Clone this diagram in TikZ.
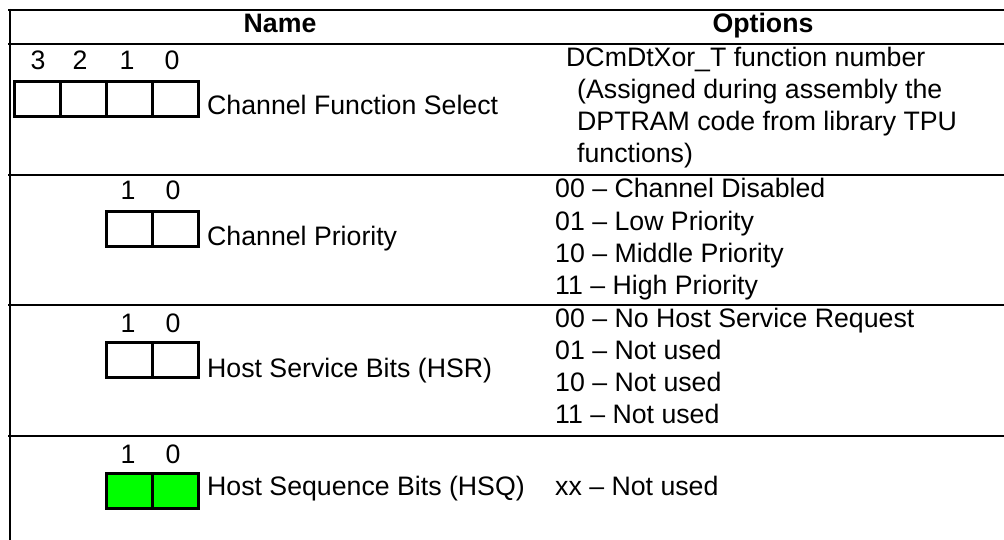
\documentclass[tikz,border=0pt]{standalone}
\usepackage{fontspec}
\setmainfont{Liberation Sans}
\definecolor{hsqgreen}{RGB}{0,255,0}
\begin{document}
\begin{tikzpicture}[x=1pt,y=-1pt,
  rule/.style={line width=2.2pt},
  cell/.style={draw, line width=3pt, minimum width=46pt, minimum height=35pt, inner sep=0pt, anchor=north west},
  bit/.style={anchor=base, inner sep=0pt, font=\fontsize{26.7}{32}\selectfont},
  txt/.style={anchor=base west, inner sep=0pt, font=\fontsize{26.7}{32}\selectfont},
  head/.style={anchor=base, inner sep=0pt, font=\fontsize{26.7}{32}\selectfont\bfseries}]
\useasboundingbox (0,0) rectangle (1004,540);
% rules
\draw[rule] (8,10) -- (1004,10);
\draw[rule] (8,44) -- (1004,44);
\draw[rule] (8,175) -- (1004,175);
\draw[rule] (8,305) -- (1004,305);
\draw[rule] (8,436) -- (1004,436);
\draw[rule] (10,9) -- (10,540);
% header
\node[head] (hname) at (280,33) {Name};
\node[head] (hopt) at (763,33) {Options};
% row 1
\node[bit] (b13) at (38,70) {3};
\node[bit] (b12) at (80,70) {2};
\node[bit] (b11) at (127,70) {1};
\node[bit] (b10) at (172,70) {0};
\node[cell] (c13) at (13,80) {};
\node[cell] (c12) at (59,80) {};
\node[cell] (c11) at (105,80) {};
\node[cell] (c10) at (151,80) {};
\node[txt] (n1) at (207,115) {Channel Function Select};
\node[txt] (o1a) at (566,67) {DCmDtXor\_T function number};
\node[txt] (o1b) at (577,99) {(Assigned during assembly the};
\node[txt] (o1c) at (577,131) {DPTRAM code from library TPU};
\node[txt] (o1d) at (577,163) {functions)};
% row 2
\node[bit] (b21) at (128,200) {1};
\node[bit] (b20) at (173,200) {0};
\node[cell] (c21) at (105,210) {};
\node[cell] (c20) at (151,210) {};
\node[txt] (n2) at (207,246) {Channel Priority};
\node[txt] (o2a) at (555,198) {00 -- Channel Disabled};
\node[txt] (o2b) at (555,230) {01 -- Low Priority};
\node[txt] (o2c) at (555,262) {10 -- Middle Priority};
\node[txt] (o2d) at (555,294) {11 -- High Priority};
% row 3
\node[bit] (b31) at (128,332) {1};
\node[bit] (b30) at (173,332) {0};
\node[cell] (c31) at (105,341) {};
\node[cell] (c30) at (151,341) {};
\node[txt] (n3) at (207,377) {Host Service Bits (HSR)};
\node[txt] (o3a) at (555,327) {00 -- No Host Service Request};
\node[txt] (o3b) at (555,359) {01 -- Not used};
\node[txt] (o3c) at (555,391) {10 -- Not used};
\node[txt] (o3d) at (555,423) {11 -- Not used};
% row 4
\node[bit] (b41) at (128,463) {1};
\node[bit] (b40) at (173,463) {0};
\node[cell, fill=hsqgreen] (c41) at (105,472) {};
\node[cell, fill=hsqgreen] (c40) at (151,472) {};
\node[txt] (n4) at (207,495) {Host Sequence Bits (HSQ)};
\node[txt] (o4a) at (555,495) {xx -- Not used};
\end{tikzpicture}
\end{document}
